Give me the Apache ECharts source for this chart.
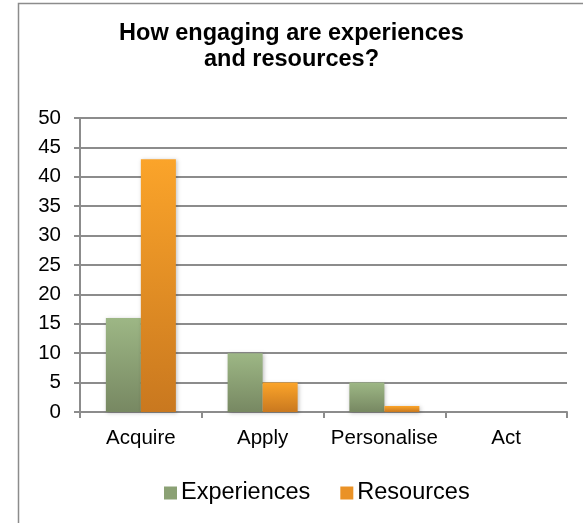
<!DOCTYPE html>
<html>
<head>
<meta charset="utf-8">
<script src="https://cdn.jsdelivr.net/npm/echarts@6/dist/echarts.min.js"></script>
<style>
  html, body { margin: 0; padding: 0; background: #fff; }
  #main { width: 583px; height: 523px; }
</style>
</head>
<body>
<div id="main"></div>
<script>
    const categories = ['Acquire', 'Apply', 'Personalise', 'Act']
    const experiences = [16, 10, 5, 0]
    const resources = [43, 5, 1, 0]
    const yTicks = { min: 0, max: 50, interval: 5 }

    const font = '"Liberation Sans", Arial, sans-serif'
    const greenFill = new echarts.graphic.LinearGradient(0, 0, 0, 1, [
        { offset: 0, color: '#9db785' },
        { offset: 1, color: '#778862' }
    ])
    const orangeFill = new echarts.graphic.LinearGradient(0, 0, 0, 1, [
        { offset: 0, color: '#fba42a' },
        { offset: 1, color: '#c9781f' }
    ])

    let chart = echarts.init(document.getElementById('main'))
    chart.setOption({
        backgroundColor: '#fff',
        animation: false,
        graphic: [{
            type: 'rect',
            shape: { x: 18.5, y: 3.5, width: 600, height: 600 },
            style: { fill: 'none', stroke: '#8c8c8c', lineWidth: 1.5 },
            silent: true
        }],
        title: {
            text: 'How engaging are experiences\nand resources?',
            left: 'center',
            top: 16,
            textStyle: {
                fontFamily: font,
                fontWeight: 'bold',
                fontSize: 23.5,
                lineHeight: 26,
                color: '#000'
            }
        },
        legend: {
            top: 476,
            left: 159,
            itemWidth: 13,
            itemHeight: 13,
            itemGap: 30,
            icon: 'rect',
            textStyle: { fontFamily: font, fontSize: 23.5, color: '#000', padding: [0, 0, 0, -1] },
            data: [
                { name: 'Experiences', itemStyle: { color: '#8ba174' } },
                { name: 'Resources', itemStyle: { color: '#ea9226' } }
            ]
        },
        grid: {
            left: 80,
            right: 16,
            top: 118,
            bottom: 111
        },
        xAxis: {
            type: 'category',
            data: categories,
            axisLine: { lineStyle: { color: '#8c8c8c', width: 2 } },
            axisTick: { show: true, length: 6, lineStyle: { color: '#8c8c8c', width: 2 } },
            axisLabel: { fontFamily: font, fontSize: 20.5, color: '#000', margin: 16, interval: 0 }
        },
        yAxis: {
            type: 'value',
            min: yTicks.min,
            max: yTicks.max,
            interval: yTicks.interval,
            axisLine: { show: true, lineStyle: { color: '#8c8c8c', width: 2 } },
            axisTick: { show: true, length: 6, lineStyle: { color: '#8c8c8c', width: 2 } },
            axisLabel: { fontFamily: font, fontSize: 20.5, color: '#000', margin: 19 },
            splitLine: { lineStyle: { color: '#8c8c8c', width: 2 } }
        },
        series: [{
            name: 'Experiences',
            type: 'bar',
            barWidth: 35,
            barGap: '0%',
            itemStyle: {
                color: greenFill,
                shadowColor: 'rgba(0,0,0,0.25)',
                shadowBlur: 4,
                shadowOffsetX: 1,
                shadowOffsetY: 1
            },
            data: experiences
        }, {
            name: 'Resources',
            type: 'bar',
            barWidth: 35,
            barGap: '0%',
            itemStyle: {
                color: orangeFill,
                shadowColor: 'rgba(0,0,0,0.25)',
                shadowBlur: 4,
                shadowOffsetX: 1,
                shadowOffsetY: 1
            },
            data: resources
        }]
    })
</script>
</body>
</html>
